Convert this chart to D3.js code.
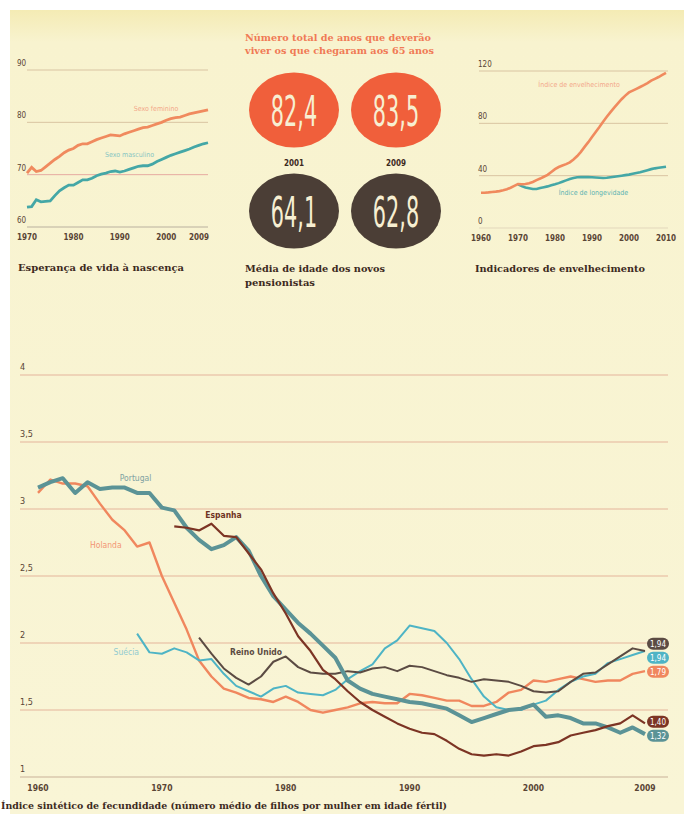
<!DOCTYPE html>
<meta charset="utf-8">
<script src="https://d3js.org/d3.v7.min.js"></script>
<style>
body { margin: 0; background: #fff; }
svg { display: block; }
.cond { font-family: 'DejaVu Sans Condensed', 'Liberation Sans Narrow', 'DejaVu Sans', sans-serif; font-stretch: condensed; }
.slab { font-family: 'DejaVu Serif Condensed', 'DejaVu Serif', serif; font-weight: bold; font-stretch: condensed; }
</style>
<body>
<script>
// ---- Esperança de vida à nascença (1970-2009)
var lifeStart = 1970;
var lifeFemale = [70.3, 71.4, 70.6, 70.8, 71.5, 72.2, 72.9, 73.5, 74.2, 74.7,
                  75.0, 75.6, 75.9, 75.9, 76.3, 76.7, 77.0, 77.3, 77.6, 77.5,
                  77.4, 77.8, 78.1, 78.4, 78.7, 79.0, 79.1, 79.4, 79.7, 80.0,
                  80.4, 80.7, 80.9, 81.0, 81.3, 81.6, 81.8, 82.0, 82.2, 82.4];
var lifeMale = [63.8, 63.9, 65.2, 64.8, 64.9, 65.0, 66.0, 66.9, 67.5, 68.0,
                68.0, 68.5, 69.0, 69.0, 69.3, 69.8, 70.1, 70.3, 70.6, 70.7,
                70.5, 70.7, 71.0, 71.3, 71.6, 71.7, 71.7, 72.0, 72.5, 72.9,
                73.3, 73.7, 74.0, 74.3, 74.6, 74.9, 75.3, 75.6, 75.9, 76.1];
var lifeYTicks = [60, 70, 80, 90];
var lifeXTicks = [1970, 1980, 1990, 2000, 2009];

// ---- Circles
var circleYears = ["2001", "2009"];
var yearsAfter65 = [82.4, 83.5];
var pensionAge = [64.1, 62.8];

// ---- Indicadores de envelhecimento
var ageingStart = 1960;
var ageingIndex = [27.0, 27.0, 27.2, 27.5, 27.8, 28.2, 28.8, 29.6, 30.8, 32.2,
                   33.6, 33.4, 33.6, 34.2, 35.2, 36.6, 37.8, 39.2, 40.6, 42.8,
                   45.0, 46.6, 47.8, 48.8, 50.2, 52.4, 55.0, 58.2, 62.0, 65.6,
                   69.5, 73.4, 77.2, 81.2, 85.0, 88.6, 92.0, 95.2, 98.4, 101.2,
                   103.6, 105.0, 106.4, 107.8, 109.2, 110.8, 112.6, 114.0, 115.4, 117.0, 118.6];
var longevStart = 1970;
var longevIndex = [33.4, 32.0, 31.0, 30.4, 29.8, 29.8, 30.6, 31.2, 31.8, 32.6,
                   33.4, 34.3, 35.4, 36.4, 37.4, 38.2, 38.8, 38.9, 38.9, 38.9,
                   38.8, 38.6, 38.4, 38.2, 38.4, 38.8, 39.2, 39.6, 40.0, 40.4,
                   40.8, 41.4, 42.0, 42.6, 43.4, 44.2, 45.0, 45.6, 46.0, 46.4, 46.8];
var ageYTicks = [0, 40, 80, 120];
var ageXTicks = [1960, 1970, 1980, 1990, 2000, 2010];

// ---- Índice sintético de fecundidade
var fertPortugal = [3.16, 3.20, 3.23, 3.12, 3.20, 3.15, 3.16, 3.16, 3.12, 3.12,
                    3.01, 2.99, 2.86, 2.77, 2.70, 2.73, 2.79, 2.69, 2.50, 2.35,
                    2.25, 2.15, 2.07, 1.98, 1.89, 1.72, 1.66, 1.62, 1.60, 1.58,
                    1.56, 1.55, 1.53, 1.51, 1.46, 1.41, 1.44, 1.47, 1.50, 1.51,
                    1.54, 1.45, 1.46, 1.44, 1.40, 1.40, 1.37, 1.33, 1.37, 1.32];
var fertEspanha = [2.87, 2.86, 2.84, 2.89, 2.80, 2.79, 2.67, 2.55, 2.37,
                   2.22, 2.05, 1.94, 1.80, 1.73, 1.64, 1.56, 1.50, 1.45, 1.40,
                   1.36, 1.33, 1.32, 1.27, 1.21, 1.17, 1.16, 1.17, 1.16, 1.19,
                   1.23, 1.24, 1.26, 1.31, 1.33, 1.35, 1.38, 1.40, 1.46, 1.40];
var fertHolanda = [3.12, 3.22, 3.19, 3.19, 3.17, 3.04, 2.92, 2.84, 2.72, 2.75,
                   2.50, 2.30, 2.10, 1.87, 1.75, 1.66, 1.63, 1.59, 1.58, 1.56,
                   1.60, 1.56, 1.50, 1.48, 1.50, 1.52, 1.55, 1.56, 1.55, 1.55,
                   1.62, 1.61, 1.59, 1.57, 1.57, 1.53, 1.53, 1.56, 1.63, 1.65,
                   1.72, 1.71, 1.73, 1.75, 1.73, 1.71, 1.72, 1.72, 1.77, 1.79];
var fertSuecia = [2.07, 1.93,
                  1.92, 1.96, 1.93, 1.87, 1.88, 1.77, 1.68, 1.64, 1.60, 1.66,
                  1.68, 1.63, 1.62, 1.61, 1.65, 1.73, 1.79, 1.84, 1.96, 2.02,
                  2.13, 2.11, 2.09, 2.00, 1.88, 1.73, 1.60, 1.52, 1.50, 1.50,
                  1.54, 1.57, 1.65, 1.71, 1.75, 1.77, 1.85, 1.88, 1.91, 1.94];
var fertReinoUnido = [2.04, 1.92, 1.81, 1.74, 1.69, 1.75, 1.86,
                      1.90, 1.82, 1.78, 1.77, 1.77, 1.79, 1.78, 1.81, 1.82, 1.79,
                      1.83, 1.82, 1.79, 1.76, 1.74, 1.71, 1.73, 1.72, 1.71, 1.68,
                      1.64, 1.63, 1.64, 1.71, 1.77, 1.78, 1.84, 1.90, 1.96, 1.94];
var fertNames = ["Portugal", "Espanha", "Holanda", "Suécia", "Reino Unido"];
var fertStarts = [1960, 1971, 1960, 1968, 1973];
var fertYTicks = [1, 1.5, 2, 2.5, 3, 3.5, 4];
var fertYLabels = ["1", "1,5", "2", "2,5", "3", "3,5", "4"];
var fertXTicks = [1960, 1970, 1980, 1990, 2000, 2009];

var salmon = "#f08a5e", teal = "#44a7a6", ink = "#3d2a1e";

var svg = d3.select("body").append("svg")
  .attr("width", 684)
  .attr("height", 814);

var defs = svg.append("defs");
var grad = defs.append("linearGradient").attr("id", "paper")
  .attr("x1", 0).attr("y1", 0).attr("x2", 0).attr("y2", 1);
grad.append("stop").attr("offset", "0").attr("stop-color", "#f4ebb4");
grad.append("stop").attr("offset", "0.04").attr("stop-color", "#f8f3cf");
grad.append("stop").attr("offset", "1").attr("stop-color", "#f9f5d6");

svg.append("rect").attr("x", 10).attr("y", 10).attr("width", 674).attr("height", 804)
  .attr("fill", "url(#paper)");

function series(start, values) {
  return values.map(function(v, i) { return { year: start + i, value: v }; });
}

function slabText(g, x, y, txt, len, color) {
  g.append("text").attr("class", "slab")
    .attr("x", x).attr("y", y)
    .attr("font-size", 9.5)
    .attr("fill", color || ink)
    .attr("textLength", len).attr("lengthAdjust", "spacingAndGlyphs")
    .text(txt);
}

// ================= top-left: esperança de vida =================
var lx = d3.scaleLinear().domain([1970, 2009]).range([27, 208]);
var ly = d3.scaleLinear().domain([60, 90]).range([227, 70]);
var gL = svg.append("g");

gL.selectAll("line.grid").data(lifeYTicks).enter().append("line")
  .attr("x1", 27).attr("x2", 208)
  .attr("y1", function(d) { return ly(d); }).attr("y2", function(d) { return ly(d); })
  .attr("stroke", function(d) { return d === 70 ? "#e6aaa0" : d === 60 ? "#b9b09e" : "#d9c4a2"; })
  .attr("stroke-width", 1);
gL.selectAll("text.yt").data(lifeYTicks).enter().append("text")
  .attr("class", "cond").attr("x", 17).attr("y", function(d) { return ly(d) - 4; })
  .attr("font-size", 8).attr("fill", "#5a4535")
  .text(function(d) { return d; });
gL.selectAll("text.xt").data(lifeXTicks).enter().append("text")
  .attr("class", "cond")
  .attr("x", function(d, i) { return i === lifeXTicks.length - 1 ? lx(d) + 1 : lx(d); })
  .attr("y", 240)
  .attr("text-anchor", function(d, i) { return i === lifeXTicks.length - 1 ? "end" : "middle"; })
  .attr("font-size", 8).attr("font-weight", "bold").attr("fill", "#5a4535")
  .text(function(d) { return d; });

var lifeLine = d3.line().x(function(d) { return lx(d.year); }).y(function(d) { return ly(d.value); });
gL.append("path").datum(series(lifeStart, lifeMale)).attr("d", lifeLine)
  .attr("fill", "none").attr("stroke", teal).attr("stroke-width", 2.8);
gL.append("path").datum(series(lifeStart, lifeFemale)).attr("d", lifeLine)
  .attr("fill", "none").attr("stroke", salmon).attr("stroke-width", 2.8);
gL.append("text").attr("class", "cond").attr("x", lx(1993)).attr("y", ly(82.2))
  .attr("font-size", 7).attr("fill", "#f3a88a").text("Sexo feminino");
gL.append("text").attr("class", "cond").attr("x", lx(1986.8)).attr("y", ly(73.4))
  .attr("font-size", 7).attr("fill", "#88c6c2").text("Sexo masculino");
slabText(gL, 18, 271, "Esperança de vida à nascença", 166);

// ================= centre: circles =================
var gC = svg.append("g");
var cx = d3.scalePoint().domain(circleYears).range([294, 396]);
slabText(gC, 245, 41, "Número total de anos que deverão", 186, "#f07a55");
slabText(gC, 245, 54, "viver os que chegaram aos 65 anos", 189, "#f07a55");

function fmt(v) { return d3.format(".1f")(v).replace(".", ","); }

function circleRow(vals, cy, fill) {
  var g = gC.append("g");
  g.selectAll("ellipse").data(vals).enter().append("ellipse")
    .attr("cx", function(d, i) { return cx(circleYears[i]); })
    .attr("cy", cy).attr("rx", 45).attr("ry", 37.5)
    .attr("fill", fill);
  g.selectAll("text").data(vals).enter().append("text")
    .attr("class", "cond")
    .attr("x", function(d, i) { return cx(circleYears[i]); })
    .attr("y", cy + 16)
    .attr("text-anchor", "middle")
    .attr("font-size", 42)
    .attr("fill", "#f7efd2")
    .text(fmt)
    .each(function() {
      var w = this.getComputedTextLength();
      this.setAttribute("textLength", w * 0.55);
      this.setAttribute("lengthAdjust", "spacingAndGlyphs");
    });
}
circleRow(yearsAfter65, 110, "#f05f3b");
circleRow(pensionAge, 211, "#4b3e36");
gC.selectAll("text.cy").data(circleYears).enter().append("text")
  .attr("class", "cond").attr("x", function(d) { return cx(d); }).attr("y", 166)
  .attr("text-anchor", "middle").attr("font-size", 8).attr("font-weight", "bold")
  .attr("fill", ink).text(function(d) { return d; });
slabText(gC, 245, 272, "Média de idade dos novos", 140);
slabText(gC, 245, 286, "pensionistas", 70);

// ================= top-right: envelhecimento =================
var ax = d3.scaleLinear().domain([1960, 2010]).range([481, 666]);
var ay = d3.scaleLinear().domain([0, 120]).range([228, 71]);
var gR = svg.append("g");
gR.selectAll("line.grid").data(ageYTicks).enter().append("line")
  .attr("x1", 479).attr("x2", 668)
  .attr("y1", function(d) { return ay(d); }).attr("y2", function(d) { return ay(d); })
  .attr("stroke", function(d) { return d === 0 ? "#e3d7bb" : "#d9c4a2"; })
  .attr("stroke-width", 1);
gR.selectAll("text.yt").data(ageYTicks).enter().append("text")
  .attr("class", "cond").attr("x", 478).attr("y", function(d) { return ay(d) - 4; })
  .attr("font-size", 8).attr("fill", "#5a4535")
  .text(function(d) { return d; });
gR.selectAll("text.xt").data(ageXTicks).enter().append("text")
  .attr("class", "cond").attr("x", function(d) { return ax(d); }).attr("y", 241)
  .attr("text-anchor", "middle").attr("font-size", 8).attr("font-weight", "bold")
  .attr("fill", "#5a4535").text(function(d) { return d; });
var ageLine = d3.line().x(function(d) { return ax(d.year); }).y(function(d) { return ay(d.value); });
gR.append("path").datum(series(longevStart, longevIndex)).attr("d", ageLine)
  .attr("fill", "none").attr("stroke", teal).attr("stroke-width", 2.6);
gR.append("path").datum(series(ageingStart, ageingIndex)).attr("d", ageLine)
  .attr("fill", "none").attr("stroke", salmon).attr("stroke-width", 2.6);
gR.append("text").attr("class", "cond").attr("x", ax(1975.5)).attr("y", ay(108))
  .attr("font-size", 7).attr("fill", "#f3a88a").text("Índice de envelhecimento");
gR.append("text").attr("class", "cond").attr("x", ax(1981)).attr("y", ay(25.5))
  .attr("font-size", 7).attr("fill", "#5cb3b2").text("Índice de longevidade");
slabText(gR, 475, 272, "Indicadores de envelhecimento", 170);

// ================= bottom: fecundidade =================
var fx = d3.scaleLinear().domain([1960, 2009]).range([38, 645]);
var fy = d3.scaleLinear().domain([1, 4]).range([777, 375]);
var gB = svg.append("g");
gB.selectAll("line.grid").data(fertYTicks).enter().append("line")
  .attr("x1", 20).attr("x2", 668)
  .attr("y1", function(d) { return fy(d); }).attr("y2", function(d) { return fy(d); })
  .attr("stroke", function(d) { return d === 1 ? "#d8c7ad" : "#ebcaae"; })
  .attr("stroke-width", 1.3);
gB.selectAll("text.yt").data(fertYTicks).enter().append("text")
  .attr("class", "cond").attr("x", 20).attr("y", function(d) { return fy(d) - 5; })
  .attr("font-size", 9).attr("fill", "#5a4535")
  .text(function(d, i) { return fertYLabels[i]; });
gB.selectAll("text.xt").data(fertXTicks).enter().append("text")
  .attr("class", "cond").attr("x", function(d) { return fx(d); }).attr("y", 791)
  .attr("text-anchor", "middle").attr("font-size", 8.5).attr("font-weight", "bold")
  .attr("fill", "#5a4535").text(function(d) { return d; });

var fertValues = [fertPortugal, fertEspanha, fertHolanda, fertSuecia, fertReinoUnido];
var fertColors = ["#5b9396", "#7c3424", "#f0875e", "#4eb4c5", "#5b4b43"];
var fertWidths = [4, 2.2, 2.4, 2, 2];
var fertLabelColors = ["#7fa2a2", "#6e3322", "#f39574", "#92cbd0", "#5c4b42"];
var fertData = fertNames.map(function(n, i) {
  return { name: n, color: fertColors[i], width: fertWidths[i], labelColor: fertLabelColors[i],
           points: series(fertStarts[i], fertValues[i]) };
});
var fertLine = d3.line().x(function(d) { return fx(d.year); }).y(function(d) { return fy(d.value); });
var drawOrder = [2, 3, 4, 0, 1];
gB.selectAll("path.s").data(drawOrder.map(function(i) { return fertData[i]; })).enter()
  .append("path")
  .attr("d", function(d) { return fertLine(d.points); })
  .attr("fill", "none")
  .attr("stroke", function(d) { return d.color; })
  .attr("stroke-width", function(d) { return d.width; })
  .attr("stroke-linejoin", "round");

// series names placed in data coordinates
var nameYears = [1966.6, 1973.5, 1964.2, 1966.1, 1975.5];
var nameValues = [3.21, 2.93, 2.71, 1.91, 1.91];
gB.selectAll("text.nm").data(fertData).enter().append("text")
  .attr("class", "cond")
  .attr("x", function(d, i) { return fx(nameYears[i]); })
  .attr("y", function(d, i) { return fy(nameValues[i]); })
  .attr("font-size", 8.5)
  .attr("font-weight", function(d, i) { return i === 1 || i === 4 ? "bold" : "normal"; })
  .attr("fill", function(d) { return d.labelColor; })
  .text(function(d) { return d.name; });

// end-value pills, spread apart when they collide
var ends = fertData.map(function(d) {
  var n = d.points.length;
  return { color: d.color, value: d.points[n - 1].value, prev: d.points[n - 2].value,
           y: fy(d.points[n - 1].value) };
});
// ties: the series coming from higher up sits on top
var order = ends.slice().sort(function(a, b) { return (a.y - b.y) || (b.prev - a.prev); });
for (var it = 0; it < 30; it++) {
  for (var k = 1; k < order.length; k++) {
    var gap = order[k].y - order[k - 1].y;
    if (gap < 14) {
      var push = (14 - gap) / 2;
      order[k].y += push;
      order[k - 1].y -= push;
    }
  }
}
var pills = gB.selectAll("g.pill").data(ends).enter().append("g")
  .attr("transform", function(d) { return "translate(" + (fx(2009) + 13) + "," + d.y + ")"; });
pills.append("rect").attr("x", -11).attr("y", -6).attr("width", 22).attr("height", 12)
  .attr("rx", 6).attr("fill", function(d) { return d.color; });
pills.append("text").attr("class", "cond").attr("y", 3).attr("text-anchor", "middle")
  .attr("font-size", 8).attr("fill", "#fff")
  .text(function(d) { return d3.format(".2f")(d.value).replace(".", ","); });

slabText(gB, 1, 809, "Índice sintético de fecundidade (número médio de filhos por mulher em idade fértil)", 446);
</script>
</body>
